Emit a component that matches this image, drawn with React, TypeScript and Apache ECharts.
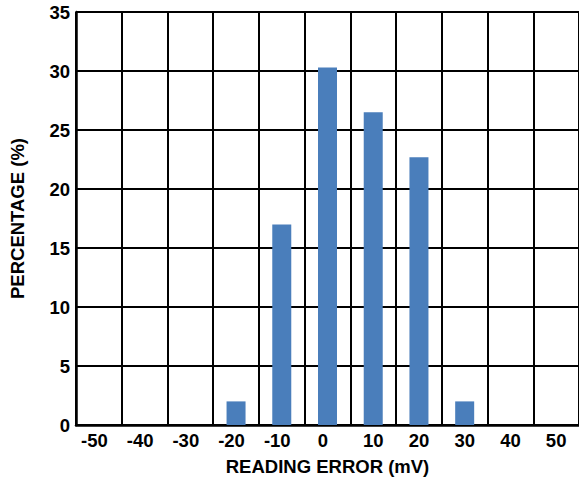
import React, { useEffect, useRef } from "react";
import * as echarts from "echarts";

const categories = ["-50", "-40", "-30", "-20", "-10", "0", "10", "20", "30", "40", "50"];
const percentages = [0, 0, 0, 2, 17, 30.3, 26.5, 22.7, 2, 0, 0];
const xTitle = "READING ERROR (mV)";
const yTitle = "PERCENTAGE (%)";

export default function App() {
  const ref = useRef<HTMLDivElement>(null);
  useEffect(() => {
    if (!ref.current) return;
    const chart = echarts.init(ref.current, null, { renderer: "svg" });
    const font = { fontFamily: "Liberation Sans, Arial, sans-serif", fontWeight: "bold" as const, fontSize: 18.5, color: "#000" };
    chart.setOption({
      animation: false,
      grid: { left: 74, top: 12, width: 506, height: 414, containLabel: false },
      xAxis: {
        type: "category",
        data: categories,
        boundaryGap: true,
        name: xTitle,
        nameLocation: "middle",
        nameGap: 32,
        nameTextStyle: font,
        axisLine: { show: true, lineStyle: { color: "#000", width: 2.5 } },
        axisTick: { show: false },
        axisLabel: {
          ...font,
          margin: 6,
          interval: 0,
          formatter: (v: string) => (Number(v) <= 0 ? `{s|${v}}` : v),
          rich: { s: { ...font, padding: [0, 9, 0, 0] } },
        },
        splitLine: { show: true, interval: 0, lineStyle: { color: "#000", width: 2 } },
      },
      yAxis: {
        type: "value",
        min: 0,
        max: 35,
        interval: 5,
        name: yTitle,
        nameLocation: "middle",
        nameGap: 49,
        nameTextStyle: font,
        axisLine: { show: true, lineStyle: { color: "#000", width: 2.5 } },
        axisTick: { show: false },
        axisLabel: { ...font, margin: 6 },
        splitLine: { show: true, lineStyle: { color: "#000", width: 2 } },
      },
      series: [
        {
          type: "bar",
          data: percentages,
          barWidth: 19,
          itemStyle: { color: "#4a7ebb" },
        },
      ],
    });
    return () => chart.dispose();
  }, []);
  return <div ref={ref} style={{ position: "absolute", left: 0, top: 0, width: 579, height: 481 }} />;
}
